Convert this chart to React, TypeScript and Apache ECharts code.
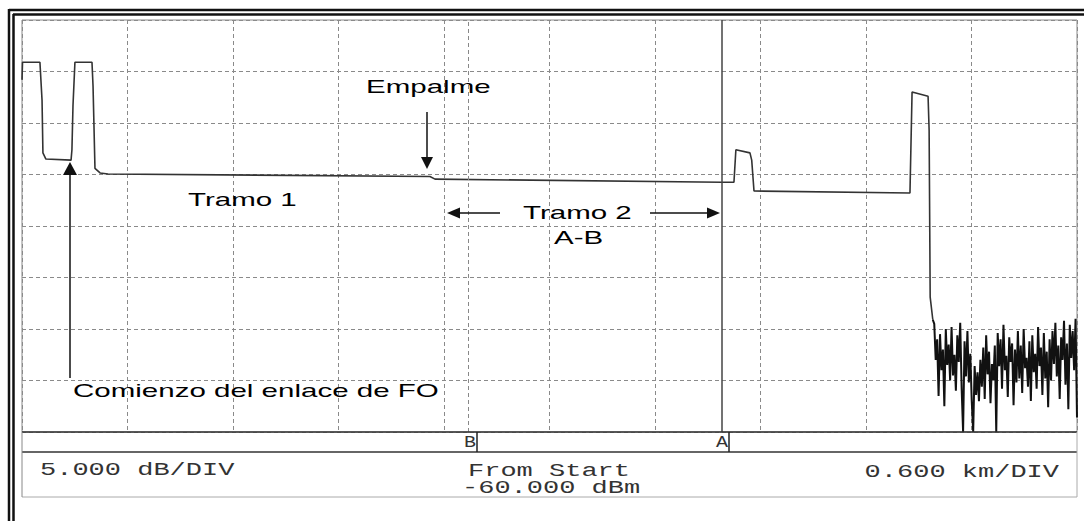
import React, { useEffect, useRef } from "react";
import * as echarts from "echarts";

// OTDR trace: distance (km) and level (dBm)
const traceDist = [0, 0.003, 0.102, 0.114, 0.119, 0.136, 0.279, 0.284, 0.29, 0.301, 0.398, 0.404, 0.415, 0.444, 0.489, 2.32, 2.349, 3.981, 4.049, 4.06, 4.14, 4.15, 4.163, 5.05, 5.062, 5.153, 5.159, 5.165, 5.18];
const traceLevel = [-25.8, -24.1, -24.1, -27.8, -32.9, -33.5, -33.6, -32.6, -28.3, -24.1, -24.1, -26.4, -34.4, -34.85, -34.95, -35.2, -35.45, -35.75, -35.75, -32.6, -32.9, -33.6, -36.6, -36.8, -27.0, -27.4, -30.7, -46.9, -49.1];

// noise floor after the fibre end, sampled every noiseStep km from noiseStart
const noiseStart = 5.18;
const noiseStep = 0.0082;
const noiseLevel = [
  -49.5, -53.0, -51.0, -56.5, -50.5, -54.0, -52.0, -57.5, -50.0, -53.5, -51.5, -55.0, -49.8, -54.5, -52.5, -56.0, -50.6, -53.2, -49.4, -55.8,
  -60.0, -51.2, -54.6, -50.2, -55.2, -52.4, -57.0, -60.0,
  -53.6, -56.4, -54.2, -57.0, -53.0, -55.6, -51.8, -56.8, -50.6, -54.4, -52.2, -57.2, -53.4, -55.0, -51.6, -60.0,
  -50.4, -53.6, -51.0, -55.8, -49.6, -54.0, -52.6, -56.6, -50.8, -53.2, -51.4, -57.4, -52.0, -55.2, -50.2, -54.8, -51.6, -56.2, -50.0, -53.8,
  -52.8, -55.6, -51.2, -57.0, -50.6, -54.2, -52.4, -55.8, -49.8, -53.6, -51.8, -56.4, -50.4, -54.8, -52.2, -57.6, -51.0, -55.0, -50.2, -53.4,
  -49.4, -54.6, -51.6, -56.8, -50.8, -53.0, -49.2, -55.4, -51.4, -57.8, -49.6, -52.8, -50.2, -54.0, -49.0, -58.6,
];

// cursors (km)
const markerA = 3.981;
const markerB = 2.536;

// axis scales
const xMin = 0, xMax = 6, xInterval = 0.6; // 0.600 km/DIV
const yMin = -60, yMax = -20, yInterval = 5; // 5.000 dB/DIV

// texts
const labelEmpalme = "Empalme";
const labelTramo1 = "Tramo 1";
const labelTramo2 = "Tramo 2";
const labelAB = "A-B";
const labelComienzo = "Comienzo del enlace de FO";
const labelScaleY = "5.000 dB/DIV";
const labelFrom = "From Start";
const labelRef = "-60.000 dBm";
const labelScaleX = "0.600 km/DIV";

export default function App() {
  const ref = useRef<HTMLDivElement>(null);

  useEffect(() => {
    if (!ref.current) return;
    const chart = echarts.init(ref.current, null, { renderer: "svg" });

    const trace: [number, number][] = traceDist.map((d, i) => [d, traceLevel[i]]);
    const noise: [number, number][] = [[traceDist[traceDist.length - 1], traceLevel[traceLevel.length - 1]]];
    noiseLevel.forEach((v, i) => noise.push([+(noiseStart + (i + 1) * noiseStep).toFixed(4), v]));

    const SX = 1.64;
    const sans = '18px "Liberation Sans", Arial, sans-serif';
    const mono = '18px "Liberation Mono", "DejaVu Sans Mono", monospace';
    const sText = (text: string, x: number, y: number) => ({
      type: "text", x, y, scaleX: SX, z: 10,
      style: { text, font: sans, fill: "#000", textAlign: "left", textVerticalAlign: "middle" },
    });
    const mText = (text: string, x: number, y: number, align = "left", sx = 1.5, font = mono) => ({
      type: "text", x, y, scaleX: sx, z: 10,
      style: { text, font, fill: "#333", textAlign: align, textVerticalAlign: "middle" },
    });
    const ln = (x1: number, y1: number, x2: number, y2: number, stroke = "#111", lineWidth = 1.5) => ({
      type: "line", z: 10, shape: { x1, y1, x2, y2 }, style: { stroke, lineWidth },
    });
    const tri = (points: number[][]) => ({ type: "polygon", z: 10, shape: { points }, style: { fill: "#111" } });

    chart.setOption({
      animation: false,
      backgroundColor: "#fff",
      grid: { left: 22, top: 20, width: 1055, height: 412, show: true, borderColor: "#888", borderWidth: 1 },
      xAxis: {
        type: "value", min: xMin, max: xMax, interval: xInterval,
        axisLine: { show: false }, axisTick: { show: false }, axisLabel: { show: false },
        splitLine: { show: true, lineStyle: { color: "#8a8a8a", width: 1, type: [4, 3] } },
      },
      yAxis: {
        type: "value", min: yMin, max: yMax, interval: yInterval,
        axisLine: { show: false }, axisTick: { show: false }, axisLabel: { show: false },
        splitLine: { show: true, lineStyle: { color: "#8a8a8a", width: 1, type: [4, 3] } },
      },
      series: [
        {
          type: "line", data: trace, showSymbol: false, symbol: "none", silent: true,
          lineStyle: { color: "#333", width: 1.6 },
          markLine: {
            symbol: "none", silent: true, label: { show: false },
            data: [
              { xAxis: markerA, lineStyle: { color: "#444", width: 1.5, type: "solid" } },
              { xAxis: markerB, lineStyle: { color: "#888", width: 1, type: [4, 3] } },
            ],
          },
        },
        {
          type: "line", data: noise, showSymbol: false, symbol: "none", silent: true,
          lineStyle: { color: "#111", width: 2 },
        },
      ],
      graphic: [
        // outer double frame
        ln(9, 10, 1084, 10, "#111", 2.5),
        ln(13, 14.5, 1084, 14.5, "#111", 2.5),
        ln(9, 9, 9, 521, "#111", 2.5),
        ln(13.5, 14, 13.5, 521, "#111", 2.5),
        // bottom strip and info box
        ln(22, 432, 1077, 432, "#333", 1.6),
        ln(22, 452, 1077, 452, "#333", 1.6),
        ln(22, 497, 1077, 497, "#aaa", 1),
        ln(22, 432, 22, 497, "#888", 1),
        ln(1077, 432, 1077, 497, "#aaa", 1),
        ln(477, 432, 477, 452, "#222", 1.5),
        ln(729, 432, 729, 452, "#222", 1.5),
        mText("B", 476, 443, "right", 1.25, '16px "Liberation Mono", monospace'),
        mText("A", 728, 443, "right", 1.25, '16px "Liberation Mono", monospace'),
        mText(labelScaleY, 40, 470),
        mText(labelFrom, 468, 471),
        mText(labelRef, 462, 488),
        mText(labelScaleX, 1059, 472, "right"),
        // annotations
        sText(labelEmpalme, 366, 87),
        ln(427, 112, 427, 160),
        tri([[421, 157], [433, 157], [427, 169]]),
        sText(labelTramo1, 188, 200),
        sText(labelTramo2, 523, 213),
        sText(labelAB, 554, 238),
        ln(457, 213, 500, 213),
        tri([[447, 213], [460, 207.5], [460, 218.5]]),
        ln(650, 213, 710, 213),
        tri([[720, 213], [707, 207.5], [707, 218.5]]),
        sText(labelComienzo, 73, 391),
        ln(70, 172, 70, 378),
        tri([[63, 175], [77, 175], [70, 162]]),
      ],
    });

    return () => chart.dispose();
  }, []);

  return (
    <div
      ref={ref}
      style={{ position: "fixed", left: 0, top: 0, width: 1084, height: 521, background: "#fff" }}
    />
  );
}
